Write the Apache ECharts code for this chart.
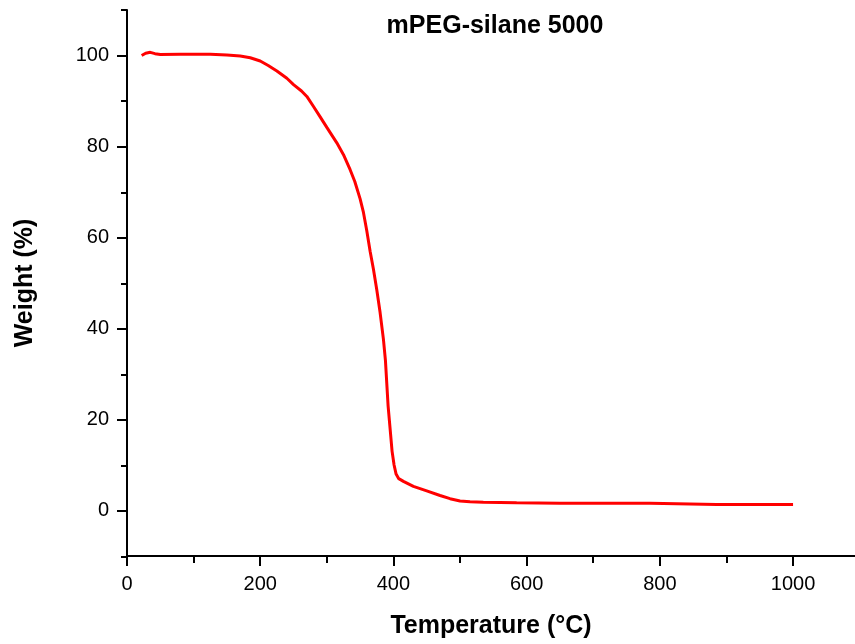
<!DOCTYPE html>
<html>
<head>
<meta charset="utf-8">
<script src="https://cdn.jsdelivr.net/npm/echarts@6/dist/echarts.min.js"></script>
<style>
  html, body { margin: 0; padding: 0; background: #fff; }
  #tga_chart { width: 855px; height: 644px; }
</style>
</head>
<body>
<div id="tga_chart"></div>
<script>
// TGA curve: temperature (°C) / weight (%)
var temps = [22, 28, 35, 42, 50, 80, 125, 150, 170, 185, 200, 212, 225, 240, 250, 262, 270, 280, 290, 300,
    315, 325, 335, 342, 350, 355, 360, 365, 370, 375, 380, 385, 388, 390, 392, 395, 398, 401, 404, 408,
    415, 430, 450, 470, 485, 500, 515, 535, 585, 650, 785, 885, 1000];
var weights = [100.0, 100.5, 100.7, 100.4, 100.2, 100.3, 100.3, 100.1, 99.9, 99.5, 98.8, 97.8, 96.6, 95.0, 93.6, 92.2, 91.0, 88.8, 86.5, 84.2,
    80.8, 78.2, 74.9, 72.3, 68.5, 65.5, 61.5, 57.0, 53.0, 48.5, 43.5, 37.6, 33.0, 28.0, 23.0, 18.0, 13.0, 10.0, 8.0, 7.0,
    6.4, 5.3, 4.3, 3.3, 2.6, 2.1, 1.9, 1.8, 1.7, 1.6, 1.6, 1.3, 1.3];

var x_major = [0, 200, 400, 600, 800, 1000];
var x_minor = [100, 300, 500, 700, 900];
var y_major = [0, 20, 40, 60, 80, 100];
var y_minor = [-10, 10, 30, 50, 70, 90, 110];

var FONT = "'Liberation Sans', Arial, sans-serif";
var gridBox = {left: 127, top: 10, right: 0, bottom: 87};

var lineData = [];
for (let i = 0; i < temps.length; i++) {
    lineData.push([temps[i], weights[i]]);
}

function makeAxis(grid, minV, maxV, labels, ticks, len, showLine, extra) {
    let ax = {
        type: 'value',
        gridIndex: grid,
        min: minV,
        max: maxV,
        splitLine: {show: false},
        axisLine: {show: showLine, onZero: false, lineStyle: {color: '#000', width: 2}},
        axisTick: {show: true, inside: false, length: len, customValues: ticks, lineStyle: {color: '#000', width: 2}},
        axisLabel: labels ? {
            show: true, customValues: labels, color: '#000', fontFamily: FONT, fontSize: 20,
            formatter: function (v) { return String(v); }
        } : {show: false}
    };
    return Object.assign(ax, extra || {});
}

var nameStyle = {fontFamily: FONT, fontSize: 25, fontWeight: 'bold', color: '#000'};

var tga_echarts = echarts.init(document.getElementById('tga_chart'), null, {renderer: 'canvas'});
var tga_option = {
    animation: false,
    backgroundColor: '#fff',
    title: {
        text: 'mPEG-silane 5000',
        left: 490,
        top: 9,
        textAlign: 'center',
        textStyle: nameStyle
    },
    grid: [
        Object.assign({}, gridBox),
        Object.assign({}, gridBox)
    ],
    xAxis: [
        makeAxis(0, 0, 1093, x_major, x_major, 10, true, {
            position: 'bottom',
            name: 'Temperature (°C)',
            nameLocation: 'middle',
            nameGap: 58,
            nameTextStyle: nameStyle
        }),
        makeAxis(1, 0, 1093, null, x_minor, 6, false, {position: 'bottom'})
    ],
    yAxis: [
        makeAxis(0, -10, 110, y_major, y_major, 10, true, {
            position: 'left',
            name: 'Weight (%)',
            nameLocation: 'middle',
            nameGap: 89,
            nameTextStyle: nameStyle
        }),
        makeAxis(1, -10, 110, null, y_minor, 6, false, {position: 'left'})
    ],
    series: [
        {
            name: 'mPEG-silane 5000',
            type: 'line',
            xAxisIndex: 0,
            yAxisIndex: 0,
            data: lineData,
            showSymbol: false,
            symbol: 'none',
            lineStyle: {color: '#ff0000', width: 3},
            z: 3
        }
    ]
};
tga_option.xAxis[0].axisLabel.margin = 18;
tga_option.yAxis[0].axisLabel.margin = 18;
tga_echarts.setOption(tga_option);
</script>
</body>
</html>
